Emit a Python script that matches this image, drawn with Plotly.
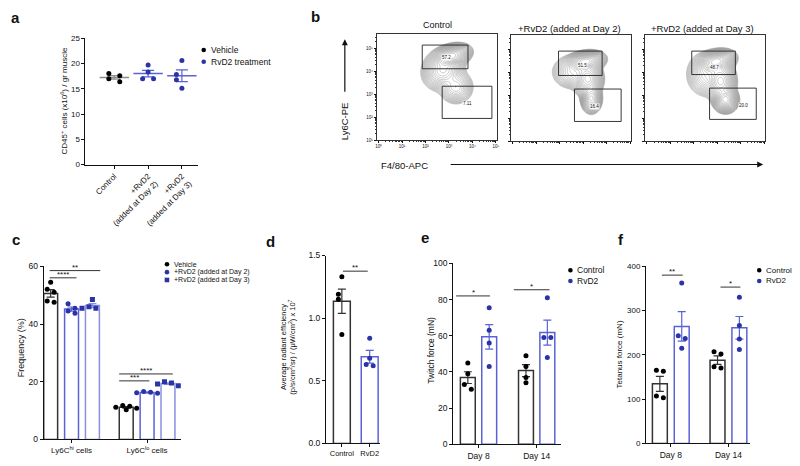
import numpy as np
import plotly.graph_objects as go

# ---------------- DATA ----------------
# Panel a
a_categories = ["Control", "+RvD2<br>(added at Day 2)", "+RvD2<br>(added at Day 3)"]
a_vehicle = [18.0, 17.6, 17.0, 16.4]
a_rvd2_day2 = [19.7, 18.3, 17.0, 17.0]
a_rvd2_day3 = [20.6, 17.8, 16.8, 15.1]
a_yticks = [0, 5, 10, 15, 20, 25]

# Panel b (flow cytometry)
b_titles = ["Control", "+RvD2 (added at Day 2)", "+RvD2 (added at Day 3)"]
b_hi_pct = ["57.2", "51.5", "48.7"]
b_lo_pct = ["7.11", "16.4", "20.0"]
# gates in log10 units: [x0, x1, y0, y1]
b_hi_gate = [[1.86, 3.81, 4.10, 5.13], [1.95, 3.81, 3.85, 4.91], [1.91, 3.77, 3.89, 4.91]]
b_lo_gate = [[2.71, 4.83, 1.94, 3.34], [2.63, 4.62, 1.85, 3.26], [2.67, 4.66, 1.94, 3.30]]
b_hi_label_pos = [[2.88, 4.57], [2.97, 4.28], [2.88, 4.20]]
b_lo_label_pos = [[3.81, 2.57], [3.47, 2.49], [4.10, 2.53]]
# density components: cx, cy, sx, sy, rho, weight
b_components = [
    [[3.10, 4.65, 0.28, 0.18, 0.30, 1.00],
     [2.75, 4.05, 0.33, 0.33, 0.10, 0.22],
     [3.30, 3.30, 0.28, 0.28, 0.00, 0.10]],
    [[3.10, 4.45, 0.28, 0.16, 0.20, 1.00],
     [3.20, 3.70, 0.23, 0.28, 0.00, 0.45],
     [3.35, 2.85, 0.16, 0.23, 0.00, 0.35],
     [2.55, 4.00, 0.33, 0.28, 0.00, 0.10]],
    [[2.95, 4.45, 0.28, 0.18, 0.25, 1.00],
     [3.15, 3.60, 0.23, 0.32, 0.00, 0.45],
     [3.35, 2.80, 0.19, 0.20, 0.00, 0.60],
     [2.55, 3.90, 0.33, 0.37, 0.00, 0.10]],
]
b_xticktext = ["10⁰", "10¹", "10²", "10³", "10⁴", "10⁵"]
b_yticktext = ["10¹", "10²", "10³", "10⁴", "10⁵"]

# Panel c
c_categories = ["Ly6C<sup>hi</sup> cells", "Ly6C<sup>lo</sup> cells"]
c_vehicle = [[54.5, 52.0, 51.0, 48.0, 47.5], [11.8, 11.5, 11.2, 10.8, 10.3]]
c_rvd2_day2 = [[47.0, 45.5, 44.5, 43.7], [16.6, 16.4, 16.2, 16.0]]
c_rvd2_day3 = [[48.5, 46.0, 45.5, 45.5], [20.0, 19.6, 19.2, 18.6]]
c_legend = ["Vehicle", "+RvD2 (added at Day 2)", "+RvD2 (added at Day 3)"]
c_yticks = [0, 20, 40, 60]

# Panel d
d_categories = ["Control", "RvD2"]
d_control = [1.33, 1.19, 1.15, 0.87]
d_rvd2 = [0.84, 0.68, 0.63, 0.62]
d_yticks = [0.0, 0.5, 1.0, 1.5]

# Panel e
e_days = ["Day 8", "Day 14"]
e_control = [[45.0, 39.0, 33.0, 30.5], [49.0, 43.0, 37.0, 34.0]]
e_rvd2 = [[75.5, 63.0, 56.0, 43.0], [81.0, 59.0, 59.0, 48.0]]
e_yticks = [0, 20, 40, 60, 80, 100]

# Panel f
f_days = ["Day 8", "Day 14"]
f_control = [[165, 163, 107, 103], [207, 202, 173, 170]]
f_rvd2 = [[362, 243, 237, 215], [330, 266, 236, 212]]
f_yticks = [0, 100, 200, 300, 400]

# ---------------- STYLE ----------------
W, H = 800, 466
FONT = "Arial, Liberation Sans, sans-serif"
INK = "#111111"
BAR_K = "#333333"
PT_BLUE = "#2b34a6"
BAR_BLUE = "#5a62d6"
BAR_BLUE2 = "#8a8fe0"
GREY = "#8c8c8c"


def px(x):
    return x / W


def py(y):
    return 1 - y / H


fig = go.Figure()
layout = dict(width=W, height=H, margin=dict(l=0, r=0, t=0, b=0),
              plot_bgcolor="white", paper_bgcolor="white", showlegend=False,
              font=dict(family=FONT, color=INK), barmode="overlay")
shapes, annotations = [], []

axis_common = dict(showline=True, linecolor=INK, linewidth=1, ticks="outside", ticklen=3,
                   tickwidth=1, tickcolor=INK, showgrid=False, zeroline=False, fixedrange=True)


def set_axes(i, xl, xr, yt, yb, xrange, yrange, xkw=None, ykw=None):
    xn = "xaxis" if i == 1 else f"xaxis{i}"
    yn = "yaxis" if i == 1 else f"yaxis{i}"
    xa = "x" if i == 1 else f"x{i}"
    ya = "y" if i == 1 else f"y{i}"
    xd = dict(axis_common, domain=[px(xl), px(xr)], range=xrange, anchor=ya)
    yd = dict(axis_common, domain=[py(yb), py(yt)], range=yrange, anchor=xa)
    xd.update(xkw or {})
    yd.update(ykw or {})
    layout[xn] = xd
    layout[yn] = yd
    return xa, ya


def swarm(vals, ppu_y, step, neigh=5.5, coll=5.0):
    order = sorted(range(len(vals)), key=lambda k: -vals[k])
    offs = [0.0] * len(vals)
    placed = []
    for k in order:
        v = vals[k] * ppu_y
        has_n = any(abs(vals[j] * ppu_y - v) < neigh for j in range(len(vals)) if j != k)
        if not has_n:
            offs[k] = 0.0
            placed.append((v, 0.0))
            continue
        cands = [-step / 2, step / 2, -1.5 * step, 1.5 * step, 0.0]
        best, bestd = None, -1
        for c in cands:
            dmin = min([np.hypot(c - po, v - pv) for pv, po in placed] or [99])
            if dmin >= coll:
                best = c
                break
            if dmin > bestd:
                bestd, best = dmin, c
        offs[k] = best
        placed.append((v, best))
    return offs


def add_series(xa, ya, xs, groups, bar_w, line_col, pt_col, symbol, ppu_x, ppu_y, step=7,
               bars=True, mean_col=None, cap=4):
    means = [float(np.mean(g)) for g in groups]
    sems = [float(np.std(g, ddof=1) / np.sqrt(len(g))) for g in groups]
    if bars:
        fig.add_trace(go.Bar(x=xs, y=means, width=bar_w, xaxis=xa, yaxis=ya,
                             marker=dict(color="white", line=dict(color=line_col, width=1.5)),
                             hoverinfo="skip"))
        fig.add_trace(go.Scatter(x=xs, y=means, xaxis=xa, yaxis=ya, mode="markers",
                                 marker=dict(size=1, color="rgba(0,0,0,0)"),
                                 error_y=dict(type="data", array=sems, color=line_col,
                                              thickness=1.2, width=cap)))
    else:
        fig.add_trace(go.Scatter(x=xs, y=means, xaxis=xa, yaxis=ya, mode="markers",
                                 marker=dict(symbol="line-ew", size=21,
                                             line=dict(color=mean_col, width=1.5)),
                                 error_y=dict(type="data", array=sems, color=mean_col,
                                              thickness=1.2, width=cap)))
    xx, yy = [], []
    for x, g in zip(xs, groups):
        o = swarm(g, ppu_y, step)
        xx += [x + oo / ppu_x for oo in o]
        yy += list(g)
    fig.add_trace(go.Scatter(x=xx, y=yy, xaxis=xa, yaxis=ya, mode="markers",
                             marker=dict(size=5, color=pt_col, symbol=symbol)))


def sig(xa, ya, x0, x1, y, text, size=8):
    shapes.append(dict(type="line", xref=xa, yref=ya, x0=x0, x1=x1, y0=y, y1=y,
                       line=dict(color="#333333", width=1)))
    annotations.append(dict(xref=xa, yref=ya, x=(x0 + x1) / 2, y=y, text=text, showarrow=False,
                            yanchor="bottom", yshift=-3, font=dict(size=size, color=INK)))


def legend_item(x, y, color, text, size=8, square=False, r=2.3):
    shapes.append(dict(type="rect" if square else "circle", xref="paper", yref="paper",
                       xsizemode="pixel", ysizemode="pixel", xanchor=px(x), yanchor=py(y),
                       x0=-r, x1=r, y0=-r, y1=r, fillcolor=color, line=dict(width=0)))
    annotations.append(dict(xref="paper", yref="paper", x=px(x + 5), y=py(y), text=text,
                            showarrow=False, xanchor="left", yanchor="middle",
                            font=dict(size=size, color=INK)))


def text_at(x, y, text, size=8, angle=0, bold=False, anchor="center"):
    annotations.append(dict(xref="paper", yref="paper", x=px(x), y=py(y),
                            text=f"<b>{text}</b>" if bold else text, showarrow=False,
                            textangle=angle, xanchor=anchor, yanchor="middle",
                            font=dict(size=size, color=INK)))


# ---------------- PANEL a ----------------
xa, ya = set_axes(1, 84, 197, 34, 163, [-0.853, 2.47], [0, 25],
                  xkw=dict(tickvals=[0, 1, 2], ticktext=a_categories, tickangle=-45,
                           tickfont=dict(size=8)),
                  ykw=dict(tickvals=a_yticks, tickfont=dict(size=8)))
add_series(xa, ya, [0], [a_vehicle], 0, None, "#000000", "circle", 34, 129 / 25, step=11,
           bars=False, mean_col=GREY, cap=6)
add_series(xa, ya, [1, 2], [a_rvd2_day2, a_rvd2_day3], 0, None, PT_BLUE, "circle", 34,
           129 / 25, step=11, bars=False, mean_col=BAR_BLUE, cap=6)
text_at(62, 98, "CD45<sup>+</sup> cells (x10<sup>6</sup>) / gr muscle", size=8, angle=-90)
legend_item(203, 46, "#000000", "Vehicle", size=8.5)
legend_item(203, 58, PT_BLUE, "RvD2 treatment", size=8.5)

# ---------------- PANEL c ----------------
c_ppx, c_ppy = 76, 177 / 60
xa, ya = set_axes(2, 42, 180, 267, 444, [-0.368, 1.447], [0, 60],
                  xkw=dict(tickvals=[0, 1], ticktext=c_categories, tickfont=dict(size=8)),
                  ykw=dict(tickvals=c_yticks, tickfont=dict(size=8.5)))
off_c = 21 / c_ppx
add_series(xa, ya, [-off_c, 1 - off_c], c_vehicle, 14 / c_ppx, BAR_K, "#000000", "circle",
           c_ppx, c_ppy)
add_series(xa, ya, [0, 1], c_rvd2_day2, 14 / c_ppx, BAR_BLUE, PT_BLUE, "circle", c_ppx, c_ppy)
add_series(xa, ya, [off_c, 1 + off_c], c_rvd2_day3, 14 / c_ppx, BAR_BLUE2, PT_BLUE, "square",
           c_ppx, c_ppy)
sig(xa, ya, -0.29, 0.38, 58.5, "**")
sig(xa, ya, -0.29, 0.066, 56.0, "****")
sig(xa, ya, 0.63, 1.34, 22.7, "****")
sig(xa, ya, 0.63, 1.03, 20.3, "***")
text_at(20, 350, "Frequency (%)", size=9, angle=-90)
legend_item(166, 265, "#000000", c_legend[0], size=7)
legend_item(166, 273, PT_BLUE, c_legend[1], size=7)
legend_item(166, 281, PT_BLUE, c_legend[2], size=7, square=True)

# ---------------- PANEL d ----------------
d_ppx, d_ppy = 28, 192 / 1.5
xa, ya = set_axes(3, 326, 380, 256, 448, [-0.571, 1.357], [0, 1.5],
                  xkw=dict(tickvals=[0, 1], ticktext=d_categories, tickfont=dict(size=7.5)),
                  ykw=dict(tickvals=d_yticks, tickformat=".1f", tickfont=dict(size=8.5)))
add_series(xa, ya, [0], [d_control], 17 / d_ppx, BAR_K, "#000000", "circle", d_ppx, d_ppy)
add_series(xa, ya, [1], [d_rvd2], 17 / d_ppx, BAR_BLUE, PT_BLUE, "circle", d_ppx, d_ppy)
sig(xa, ya, 0.04, 0.93, 1.375, "**")
text_at(288, 350, "Average radiant efficiency<br>(p/s/cm<sup>2</sup>/sr) / (μW/cm<sup>2</sup>) x 10<sup>7</sup>",
        size=7.5, angle=-90)

# ---------------- PANEL e ----------------
e_ppx, e_ppy = 58.5, 185 / 100
xa, ya = set_axes(4, 454, 563, 264, 449, [-0.436, 1.427], [0, 100],
                  xkw=dict(tickvals=[0, 1], ticktext=e_days, tickfont=dict(size=8.5)),
                  ykw=dict(tickvals=e_yticks, tickfont=dict(size=8.5)))
off_e = 10.75 / e_ppx
add_series(xa, ya, [-off_e, 1 - off_e], e_control, 15 / e_ppx, BAR_K, "#000000", "circle",
           e_ppx, e_ppy)
add_series(xa, ya, [off_e, 1 + off_e], e_rvd2, 15 / e_ppx, BAR_BLUE, PT_BLUE, "circle",
           e_ppx, e_ppy)
sig(xa, ya, -0.385, 0.197, 82, "*")
sig(xa, ya, 0.607, 1.222, 85.4, "*")
text_at(432, 353, "Twitch force (mN)", size=8.5, angle=-90)
legend_item(572, 271, "#000000", "Control", size=8.5)
legend_item(572, 282, PT_BLUE, "RvD2", size=8.5)

# ---------------- PANEL f ----------------
f_ppx, f_ppy = 58, 181 / 400
xa, ya = set_axes(5, 648, 753, 267, 448, [-0.431, 1.379], [0, 400],
                  xkw=dict(tickvals=[0, 1], ticktext=f_days, tickfont=dict(size=8.5)),
                  ykw=dict(tickvals=f_yticks, tickfont=dict(size=8)))
off_f = 11 / f_ppx
add_series(xa, ya, [-off_f, 1 - off_f], f_control, 15 / f_ppx, BAR_K, "#000000", "circle",
           f_ppx, f_ppy)
add_series(xa, ya, [off_f, 1 + off_f], f_rvd2, 15 / f_ppx, BAR_BLUE, PT_BLUE, "circle",
           f_ppx, f_ppy)
sig(xa, ya, -0.155, 0.207, 380, "**")
sig(xa, ya, 0.862, 1.207, 353, "*")
text_at(621, 357, "Tetanus force (mN)", size=8, angle=-90)
legend_item(762, 271, "#000000", "Control", size=8)
legend_item(762, 282, PT_BLUE, "RvD2", size=8)

# ---------------- PANEL b ----------------
gx = np.linspace(-0.1, 5.1, 157)
gy = np.linspace(1.0, 5.6, 139)
GX, GY = np.meshgrid(gx, gy)
minor_x = [d + np.log10(k) for d in range(0, 5) for k in range(2, 10)]
minor_y = [d + np.log10(k) for d in range(1, 6) for k in range(2, 10) if d + np.log10(k) < 5.6]
flow_left = [377, 512, 647]
flow_top = [30, 31, 31]
for i in range(3):
    xl, yt = flow_left[i], flow_top[i]
    ppd = 23.6
    xrng = [(-2) / ppd, (121 - 2) / ppd]
    yrng = [1.0, 1.0 + 108 / 23.5]
    lab = (i == 0)
    xa, ya = set_axes(6 + i, xl, xl + 121, yt, yt + 108, xrng, yrng,
                      xkw=dict(mirror=True, linewidth=0.8, linecolor="#333333", ticklen=2,
                               tickvals=list(range(6)), ticktext=b_xticktext if lab else [""] * 6,
                               tickfont=dict(size=4.5),
                               minor=dict(tickvals=minor_x, ticklen=1.2, ticks="outside",
                                          tickcolor="#333333")),
                      ykw=dict(mirror=True, linewidth=0.8, linecolor="#333333", ticklen=2,
                               tickvals=list(range(1, 6)), ticktext=b_yticktext if lab else [""] * 5,
                               tickfont=dict(size=4.5),
                               minor=dict(tickvals=minor_y, ticklen=1.2, ticks="outside",
                                          tickcolor="#333333")))
    Z = np.zeros_like(GX)
    for cx, cy, sx, sy, rho, w in b_components[i]:
        dx = (GX - cx) / sx
        dy = (GY - cy) / sy
        q = (dx * dx - 2 * rho * dx * dy + dy * dy) / (1 - rho * rho)
        Z += w * np.exp(-0.5 * q)
    LZ = np.log10(Z + 1e-12)
    zmax = float(LZ.max())
    fig.add_trace(go.Contour(x=gx, y=gy, z=LZ, xaxis=xa, yaxis=ya, showscale=False,
                             contours=dict(coloring="lines", start=zmax - 2.5, end=zmax - 0.04,
                                           size=0.1),
                             line=dict(width=0.45, smoothing=1.0),
                             colorscale=[[0, "#8a8a8a"], [1, "#8a8a8a"]], hoverinfo="skip"))
    for g in (b_hi_gate[i], b_lo_gate[i]):
        shapes.append(dict(type="rect", xref=xa, yref=ya, x0=g[0], x1=g[1], y0=g[2], y1=g[3],
                           line=dict(color="#222222", width=0.9)))
    for pos, t in ((b_hi_label_pos[i], b_hi_pct[i]), (b_lo_label_pos[i], b_lo_pct[i])):
        annotations.append(dict(xref=xa, yref=ya, x=pos[0], y=pos[1], text=t, showarrow=False,
                                font=dict(size=4.5, color=INK), bgcolor="rgba(255,255,255,0.85)",
                                borderpad=0))
text_at(438, 20, b_titles[0], size=9)
text_at(571, 24, b_titles[1], size=9.5)
text_at(705, 24, b_titles[2], size=9.5)
text_at(345, 119, "Ly6C-PE", size=9.5, angle=-90)
text_at(405, 164, "F4/80-APC", size=9.5)
annotations.append(dict(xref="paper", yref="paper", x=px(345), y=py(35), ax=0, ay=54,
                        text="", showarrow=True, arrowhead=2, arrowsize=1, arrowwidth=1.2,
                        arrowcolor=INK))
annotations.append(dict(xref="paper", yref="paper", x=px(766), y=py(163), ax=-314, ay=0,
                        text="", showarrow=True, arrowhead=2, arrowsize=1, arrowwidth=1.2,
                        arrowcolor=INK))

# ---------------- panel letters ----------------
for (x, y, t) in [(14, 13, "a"), (315, 12, "b"), (14, 240, "c"), (270, 242, "d"),
                  (426, 238, "e"), (623, 240, "f")]:
    text_at(x, y, t, size=15, bold=True)

layout["shapes"] = shapes
layout["annotations"] = annotations
fig.update_layout(**layout)
fig.write_html("out.html", config={"displayModeBar": False},
               post_script="document.body.style.margin='0px';document.body.style.overflow='hidden';")
